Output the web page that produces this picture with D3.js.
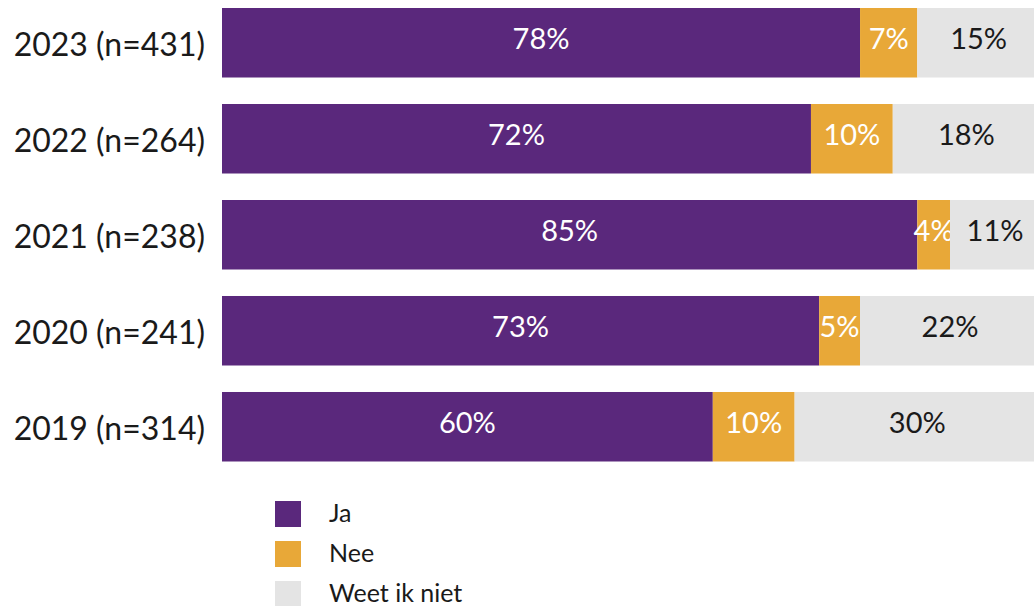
<!DOCTYPE html>
<html>
<head>
<meta charset="utf-8">
<script src="https://cdn.jsdelivr.net/npm/d3@7"></script>
<style>
  html, body { margin: 0; padding: 0; background: #fff; overflow: hidden; }
  svg { display: block; font-family: Lato, sans-serif; }
</style>
</head>
<body>
<svg id="chart" width="1034" height="606"></svg>
<script>
// Survey answers per year, in percent
const years = ["2023 (n=431)", "2022 (n=264)", "2021 (n=238)", "2020 (n=241)", "2019 (n=314)"];
const ja = [78, 72, 85, 73, 60];
const nee = [7, 10, 4, 5, 10];
const weetIkNiet = [15, 18, 11, 22, 30];

const seriesNames = ["Ja", "Nee", "Weet ik niet"];
const seriesColors = ["#5A287C", "#E8A838", "#E4E4E4"];
const labelColors = ["#ffffff", "#ffffff", "#1a1a1a"];

const rows = years.map((y, i) => ({ year: y, Ja: ja[i], Nee: nee[i], "Weet ik niet": weetIkNiet[i] }));
const stacked = d3.stack().keys(seriesNames)(rows);

const svg = d3.select("#chart");

// 100% runs slightly past the right edge of the canvas
const x = d3.scaleLinear().domain([0, 100]).range([222, 1040]);
const y = d3.scaleBand().domain(years).range([8, 461.5]).paddingInner(0.276).paddingOuter(0);

const layers = svg.selectAll("g.layer")
  .data(stacked)
  .join("g")
  .attr("class", "layer")
  .attr("fill", (d, i) => seriesColors[i]);

layers.selectAll("rect")
  .data(d => d)
  .join("rect")
  .attr("x", d => x(d[0]))
  .attr("y", d => y(d.data.year))
  .attr("width", d => x(d[1]) - x(d[0]))
  .attr("height", y.bandwidth());

layers.each(function (layer, li) {
  d3.select(this).selectAll("text")
    .data(layer)
    .join("text")
    .attr("x", d => (x(d[0]) + x(d[1])) / 2)
    .attr("y", d => y(d.data.year) + y.bandwidth() / 2)
    .attr("dy", "0.22em")
    .attr("text-anchor", "middle")
    .attr("fill", labelColors[li])
    .style("font-size", "29px")
    .text(d => (d[1] - d[0]) + "%");
});

// Category labels on the left
svg.selectAll("text.cat")
  .data(years)
  .join("text")
  .attr("class", "cat")
  .attr("x", 205)
  .attr("y", d => y(d) + y.bandwidth() / 2)
  .attr("dy", "0.4em")
  .attr("text-anchor", "end")
  .attr("fill", "#1a1a1a")
  .style("font-size", "32px")
  .text(d => d);

// Legend
const legend = svg.selectAll("g.legend")
  .data(seriesNames)
  .join("g")
  .attr("class", "legend")
  .attr("transform", (d, i) => `translate(275, ${501 + i * 40})`);

legend.append("rect")
  .attr("width", 26)
  .attr("height", 26)
  .attr("fill", (d, i) => seriesColors[i]);

legend.append("text")
  .attr("x", 54)
  .attr("y", 13)
  .attr("dy", "0.33em")
  .attr("fill", "#1a1a1a")
  .style("font-size", "25px")
  .text(d => d);
</script>
</body>
</html>
